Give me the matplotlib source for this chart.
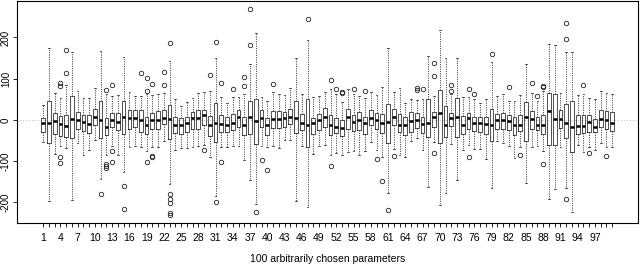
import matplotlib
matplotlib.use("Agg")
import matplotlib.pyplot as plt

plt.rcParams['font.family'] = ['Liberation Sans', 'DejaVu Sans']

# five-number summaries, parameters 1..100
med = [-8, -8, -2, -9, -14, 3, -1, -4, -9, 7,
       1, -16, 0, -4, 7, 5, 5, -1, -13, 1,
       1, 5, 3, -11, -12, -7, 4, 4, 11, -13,
       -8, -9, -12, -7, 7, -12, 7, -3, 4, -13,
       3, 3, 4, 8, 5, -8, -11, -8, -1, 8,
       -11, -16, -19, 8, -4, 0, -8, 5, 1, -7,
       -4, 7, -13, -12, -3, 1, -9, -7, 7, 17,
       -12, 5, 7, -13, 4, -8, -8, -9, -11, 1,
       1, -3, -13, -12, 8, 3, -12, -11, 21, 3,
       3, -8, -17, -15, -15, -5, -16, 3, -1, -8]
q1 = [-28, -55, -33, -40, -42, -44, -21, -27, -31, -11,
      -44, -37, -18, -25, -33, -21, -17, -29, -33, -21,
      -21, -9, -47, -32, -33, -28, -21, -21, -13, -38,
      -54, -28, -30, -24, -16, -36, -33, -58, -17, -36,
      -20, -19, -16, -9, -31, -24, -66, -33, -25, -17,
      -36, -32, -38, -21, -27, -25, -33, -12, -23, -32,
      -56, -13, -28, -36, -28, -19, -31, -42, -16, -56,
      -42, -15, -42, -33, -21, -27, -28, -33, -50, -21,
      -21, -25, -36, -27, -50, -21, -25, -33, -60, -60,
      -19, -44, -78, -33, -32, -28, -30, -17, -21, -27]
q3 = [5, 45, 17, 10, 12, 59, 19, 12, 12, 27,
      45, 5, 18, 17, 47, 25, 25, 25, 7, 17,
      21, 25, 37, 8, 5, 8, 20, 23, 25, 10,
      42, 12, 8, 15, 25, 8, 45, 51, 23, 5,
      21, 21, 20, 27, 47, 15, 50, 5, 15, 29,
      13, 5, 1, 27, 11, 20, 8, 23, 17, 15,
      39, 27, 15, 8, 20, 17, 8, 51, 20, 73,
      33, 17, 53, 9, 17, 8, 7, 7, 27, 15,
      17, 12, 7, 11, 43, 21, 8, 11, 65, 62,
      23, 39, 47, 12, 11, 11, 3, 25, 21, 20]
wlo = [-54, -197, -82, -64, -68, -195, -56, -84, -74, -48,
       -142, -86, -62, -86, -126, -66, -64, -66, -76, -66,
       -66, -50, -155, -74, -67, -68, -66, -63, -60, -90,
       -185, -66, -66, -63, -64, -96, -146, -203, -62, -66,
       -63, -68, -48, -48, -197, -63, -211, -82, -63, -60,
       -84, -80, -86, -78, -76, -86, -76, -54, -74, -90,
       -177, -70, -86, -90, -50, -43, -74, -163, -54, -205,
       -176, -59, -146, -74, -60, -70, -70, -94, -164, -50,
       -55, -62, -92, -66, -153, -66, -63, -76, -192, -167,
       -66, -164, -223, -60, -78, -66, -74, -56, -66, -66]
whi = [37, 174, 65, 53, 85, 164, 70, 54, 53, 78,
       168, 62, 58, 61, 152, 67, 57, 59, 63, 61,
       62, 65, 142, 50, 34, 43, 54, 65, 67, 70,
       150, 55, 42, 56, 55, 63, 136, 210, 55, 47,
       69, 62, 61, 77, 150, 62, 194, 55, 57, 67,
       75, 63, 43, 75, 63, 59, 54, 69, 60, 79,
       175, 69, 78, 41, 51, 49, 50, 156, 57, 219,
       150, 62, 150, 55, 55, 50, 42, 50, 140, 58,
       63, 47, 45, 61, 136, 65, 47, 70, 184, 182,
       65, 164, 164, 61, 63, 54, 50, 71, 66, 63]
outliers = {
    4: [89, 83, -90, -104], 5: [170, 113], 11: [-179],
    12: [73, -106, -112, -116], 13: [84, -75, -101], 15: [-160, -217],
    18: [115], 19: [102, 71, -101], 20: [87, -88, -90],
    22: [117, 86], 23: [187, -179, -192, -201, -225, -230],
    29: [-74], 30: [108], 31: [190, -199], 32: [89, -102],
    34: [76], 36: [104, 83], 37: [269, 182], 38: [-222], 39: [-98],
    40: [-121], 41: [88], 47: [245], 51: [96, -112], 52: [75],
    53: [65, 67], 55: [75], 57: [70], 59: [-94], 60: [-148],
    61: [-219], 62: [-88], 66: [78, 73], 67: [75],
    69: [138, 106, -79], 72: [84, 70], 75: [75, -90], 76: [63],
    79: [160], 82: [80], 84: [-86], 86: [89], 87: [58],
    88: [81, 83, -106], 92: [235, 197, -192], 95: [84], 96: [-80],
    99: [-88],
}
xticklabels = list(range(1, 100, 3))
xlabel = "100 arbitrarily chosen parameters"

stats = []
for i in range(len(med)):
    stats.append(dict(med=med[i], q1=q1[i], q3=q3[i], whislo=wlo[i],
                      whishi=whi[i], fliers=outliers.get(i + 1, [])))

fig = plt.figure(figsize=(6.4, 2.64), dpi=100)
ax = fig.add_axes([0.027, 0.155, 0.970, 0.842])

ax.axhline(0, color="#bbbbbb", lw=0.7, ls=(0, (1, 2)), zorder=0)
ax.bxp(stats, positions=range(1, 101), widths=0.65, manage_ticks=False,
       boxprops=dict(color="#222222", lw=0.55),
       medianprops=dict(color="black", lw=1.8, solid_capstyle="butt"),
       whiskerprops=dict(color="#222222", lw=0.55, ls=(0, (1.5, 1.5))),
       capprops=dict(color="#222222", lw=0.55), capwidths=0.3,
       flierprops=dict(marker="o", markersize=3.2, markerfacecolor="none",
                       markeredgecolor="#222222", markeredgewidth=0.6))

ax.set_xlim(-3.5, 104.5)
ax.set_ylim(-250, 289)
ax.set_xticks(range(1, 101))
ax.set_xticklabels([str(i) if i in xticklabels else "" for i in range(1, 101)])
ax.set_yticks([-200, -100, 0, 100, 200])
ax.set_yticklabels(["-200", "-100", "0", "100", "200"], rotation=90, va="center")
ax.tick_params(axis="x", length=3, width=0.6, labelsize=7.5, pad=4)
ax.tick_params(axis="y", length=3, width=0.6, labelsize=7, pad=1.5)
for s in ax.spines.values():
    s.set_linewidth(0.8)
ax.set_xlabel(xlabel, fontsize=7.5, labelpad=8)

fig.savefig("out.png", dpi=100)
